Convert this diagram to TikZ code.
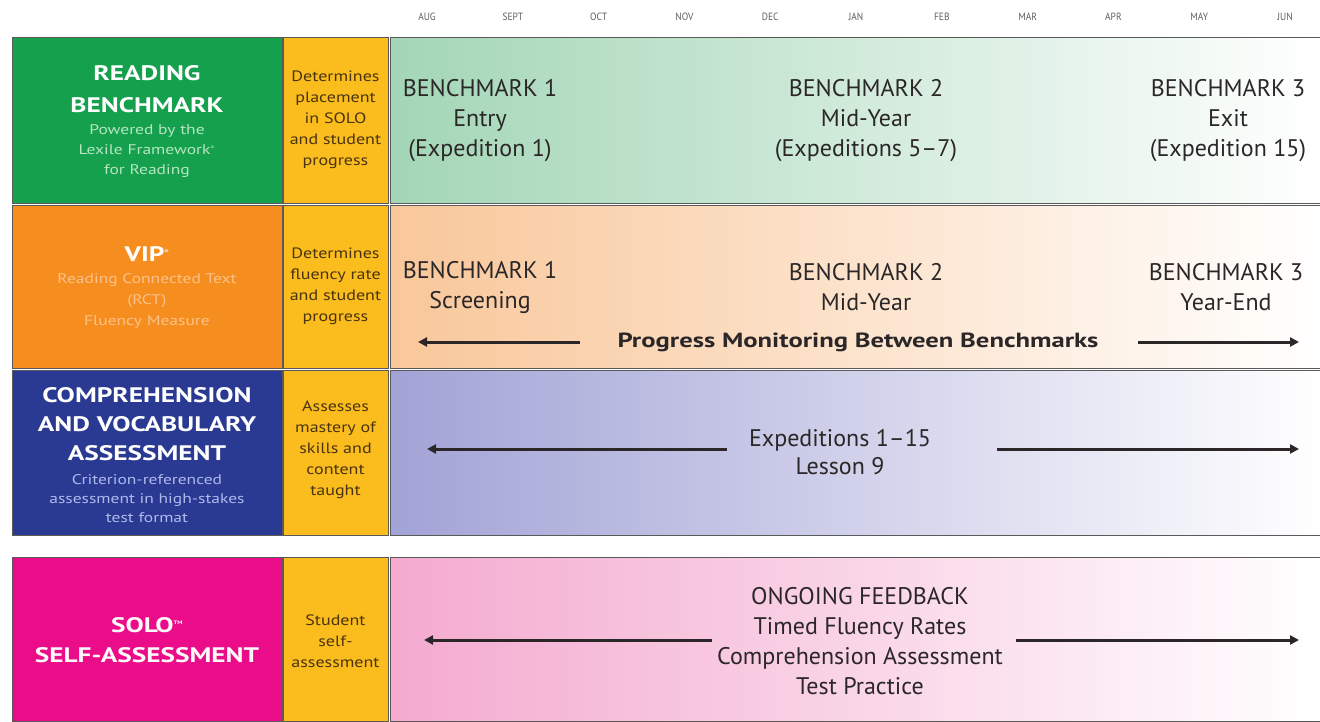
\documentclass[tikz,border=0pt]{standalone}
\usepackage{fontspec}
\setmainfont{PT Sans}
\newfontfamily\hfont{PT Sans}[FakeStretch=1.3]
\newfontfamily\sfont{PT Sans}[FakeStretch=1.25]
\newfontfamily\yfont{PT Sans}[FakeStretch=1.2]
\newfontfamily\mfont{PT Sans}[FakeStretch=0.9]
\usetikzlibrary{arrows.meta}
\definecolor{cgreen}{HTML}{14A04C}
\definecolor{corange}{HTML}{F68E1F}
\definecolor{cblue}{HTML}{2A3A93}
\definecolor{cpink}{HTML}{EB0C8A}
\definecolor{cyellow}{HTML}{FBBD1E}
\definecolor{gGreen}{HTML}{A3D6B6}
\definecolor{gOrange}{HTML}{F9C79A}
\definecolor{gBlue}{HTML}{A2A3D6}
\definecolor{gPink}{HTML}{F4AACF}
\definecolor{subGreen}{HTML}{B6E6C2}
\definecolor{subOrange}{HTML}{FCC18A}
\definecolor{subBlue}{HTML}{AEB9EC}
\definecolor{ybrown}{HTML}{4A3410}
\definecolor{txt}{HTML}{2B2728}
\definecolor{edge}{HTML}{5A5A5A}
\definecolor{month}{HTML}{5E5E5E}
\begin{document}
\begin{tikzpicture}[x=1pt,y=-1pt,
  hdr/.style={draw=edge, line width=1pt, anchor=north west, minimum width=270pt, inner sep=0pt},
  ybox/.style={draw=edge, line width=1pt, fill=cyellow, anchor=north west, minimum width=105pt, inner sep=0pt},
  ytext/.style={text=ybrown, align=center, inner sep=0pt, font=\yfont\fontsize{15}{21}\selectfont},
  gbox/.style={draw=edge, line width=1pt, anchor=north west, minimum width=930pt, inner sep=0pt},
  htitle/.style={text=white, align=center, inner sep=0pt, font=\hfont\bfseries\fontsize{21}{#1}\selectfont},
  hsub/.style={align=center, inner sep=0pt, font=\sfont\fontsize{14}{#1}\selectfont},
  body/.style={text=txt, align=center, inner sep=0pt, font=\fontsize{24}{#1}\selectfont},
  mlabel/.style={text=month, font=\mfont\fontsize{10.5}{11}\selectfont},
  arr/.style={draw=txt, line width=3pt, -{Triangle[length=9pt,width=9pt]}}
]
\useasboundingbox (0,0) rectangle (1320,721);
\fill[white] (0,0) rectangle (1320,721);

% months
\foreach \m [count=\i from 0] in {AUG,SEPT,OCT,NOV,DEC,JAN,FEB,MAR,APR,MAY,JUN}
  \node[mlabel] (m\i) at ({427+85.8*\i},17) {\m};

% row 1
\shade[left color=gGreen, right color=white] (390,37) rectangle (1320,203);
\node[gbox, minimum height=166pt] (g1) at (390,37) {};
\node[hdr, fill=cgreen, minimum height=166pt] (h1) at (12,37) {};
\node[htitle=32] (h1t) at (147,89) {READING\\BENCHMARK};
\node[hsub=20, text=subGreen] (h1s) at (147,151) {Powered by the\\Lexile Framework\textsuperscript{\tiny\textregistered}\\for Reading};
\node[ybox, minimum height=166pt] (y1) at (283,37) {};
\node[ytext] (y1t) at (335.5,120) {Determines\\placement\\in SOLO\\and student\\progress};
\node[body=30] (b11) at (480,121) {BENCHMARK 1\\Entry\\(Expedition 1)};
\node[body=30] (b12) at (866,121) {BENCHMARK 2\\Mid-Year\\(Expeditions 5--7)};
\node[body=30] (b13) at (1228,121) {BENCHMARK 3\\Exit\\(Expedition 15)};

% row 2
\shade[left color=gOrange, right color=white] (390,205) rectangle (1320,368);
\node[gbox, minimum height=163pt] (g2) at (390,205) {};
\node[hdr, fill=corange, minimum height=163pt] (h2) at (12,205) {};
\node[htitle=30] (h2t) at (147,254) {VIP\textsuperscript{\tiny\textregistered}};
\node[hsub=21, text=subOrange] (h2s) at (147,301) {Reading Connected Text\\(RCT)\\Fluency Measure};
\node[ybox, minimum height=163pt] (y2) at (283,205) {};
\node[ytext] (y2t) at (335.5,286) {Determines\\fluency rate\\and student\\progress};
\node[body=30] (b21) at (480,287) {BENCHMARK 1\\Screening};
\node[body=30] (b22) at (866,287) {BENCHMARK 2\\Mid-Year};
\node[body=30] (b23) at (1226,287) {BENCHMARK 3\\Year-End};
\node[text=txt, inner sep=0pt, font=\hfont\bfseries\fontsize{20.5}{24}\selectfont] (pm) at (858,342) {Progress Monitoring Between Benchmarks};
\coordinate (a2ls) at (580,342);
\coordinate (a2l) at (418,342);
\coordinate (a2rs) at (1138,342);
\coordinate (a2r) at (1299,342);
\draw[arr] (a2ls) -- (a2l);
\draw[arr] (a2rs) -- (a2r);

% row 3
\shade[left color=gBlue, right color=white] (390,370) rectangle (1320,535);
\node[gbox, minimum height=165pt] (g3) at (390,370) {};
\node[hdr, fill=cblue, minimum height=165pt] (h3) at (12,370) {};
\node[htitle=29] (h3t) at (147,424) {COMPREHENSION\\AND VOCABULARY\\ASSESSMENT};
\node[hsub=19, text=subBlue] (h3s) at (147,499) {Criterion-referenced\\assessment in high-stakes\\test format};
\node[ybox, minimum height=165pt] (y3) at (283,370) {};
\node[ytext] (y3t) at (335.5,450) {Assesses\\mastery of\\skills and\\content\\taught};
\node[body=28] (b31) at (840,452) {Expeditions 1--15\\Lesson 9};
\coordinate (a3ls) at (727,449);
\coordinate (a3l) at (427,449);
\coordinate (a3rs) at (997,449);
\coordinate (a3r) at (1299,449);
\draw[arr] (a3ls) -- (a3l);
\draw[arr] (a3rs) -- (a3r);

% row 4
\shade[left color=gPink, right color=white] (390,557) rectangle (1320,721);
\node[gbox, minimum height=164pt] (g4) at (390,557) {};
\node[hdr, fill=cpink, minimum height=164pt] (h4) at (12,557) {};
\node[htitle=30, text=white!92!pink] (h4t) at (147,640) {SOLO\textsuperscript{\tiny TM}\\SELF-ASSESSMENT};
\node[ybox, minimum height=164pt] (y4) at (283,557) {};
\node[ytext] (y4t) at (335.5,641) {Student\\self-\\assessment};
\node[body=30] (b41) at (860,641) {ONGOING FEEDBACK\\Timed Fluency Rates\\Comprehension Assessment\\Test Practice};
\coordinate (a4ls) at (712,640);
\coordinate (a4l) at (424,640);
\coordinate (a4rs) at (1016,640);
\coordinate (a4r) at (1299,640);
\draw[arr] (a4ls) -- (a4l);
\draw[arr] (a4rs) -- (a4r);
\end{tikzpicture}
\end{document}
